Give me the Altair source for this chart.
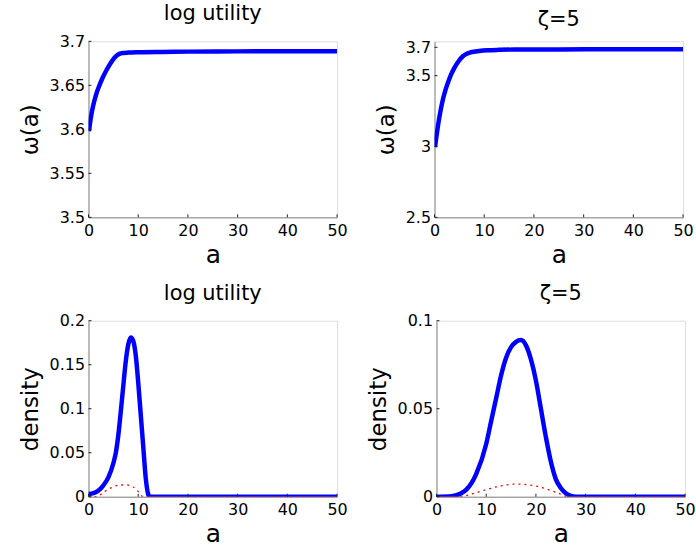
import altair as alt
import pandas as pd

# ---- data ----
# top-left: omega(a), log utility
tl_a = [0.1, 0.5, 0.9, 1.5, 2.2, 2.8, 3.5, 4.2, 4.9, 5.5, 6.2, 7.0, 8.0, 10.0, 15.0, 20.0, 30.0, 40.0, 50.0]
tl_v = [3.598, 3.614, 3.626, 3.639, 3.650, 3.658, 3.666, 3.673, 3.679, 3.683, 3.6858, 3.6868, 3.6872, 3.6876, 3.688, 3.6883, 3.6886, 3.6887, 3.6887]
# top-right: omega(a), zeta=5
tr_a = [0.1, 0.4, 0.7, 1.2, 1.7, 2.2, 2.7, 3.3, 4.0, 4.8, 5.7, 6.5, 7.3, 9.0, 10.7, 13.0, 16.0, 25.0, 35.0, 50.0]
tr_v = [2.995, 3.075, 3.147, 3.250, 3.334, 3.398, 3.450, 3.505, 3.555, 3.600, 3.637, 3.655, 3.665, 3.674, 3.679, 3.682, 3.684, 3.685, 3.686, 3.686]
# bottom-left: density, log utility
bl_a = [0, 1, 2, 3, 4, 5, 5.5, 6, 6.5, 7, 7.5, 8, 8.5, 9, 9.5, 10, 10.5, 11, 11.5, 12, 12.3, 20, 30, 40, 50]
bl_v = [0.003, 0.004, 0.007, 0.013, 0.022, 0.038, 0.050, 0.070, 0.097, 0.126, 0.154, 0.173, 0.181, 0.177, 0.161, 0.130, 0.094, 0.058, 0.022, 0.003, 0.0, 0.0, 0.0, 0.0, 0.0]
bl_ra = [0, 1.6, 3, 4.5, 6, 7.5, 9, 10, 11, 20, 30, 40, 50]
bl_rv = [0.0, 0.0, 0.005, 0.010, 0.013, 0.0135, 0.011, 0.006, 0.0, 0.0, 0.0, 0.0, 0.0]
# bottom-right: density, zeta=5
br_a = [0, 3, 5, 6, 8, 10, 11, 12, 13, 14, 15, 16, 17, 18, 19, 20, 21, 22, 23, 24, 25, 26, 27, 28, 35, 50]
br_v = [0.0, 0.0003, 0.002, 0.004, 0.013, 0.030, 0.043, 0.056, 0.069, 0.079, 0.085, 0.088, 0.089, 0.086, 0.078, 0.066, 0.050, 0.034, 0.020, 0.010, 0.005, 0.002, 0.0005, 0.0, 0.0, 0.0]
br_ra = [0, 4.6, 7, 10, 13, 16, 19, 22, 24.5, 26.5, 35, 50]
br_rv = [0.0, 0.0, 0.0015, 0.004, 0.0062, 0.0072, 0.0066, 0.0045, 0.002, 0.0, 0.0, 0.0]

x_ticks = [0, 10, 20, 30, 40, 50]
FONT = "DejaVu Sans"
W, H = 250, 177


def panel(title, ytitle, blue_a, blue_v, ydom, yticks, red_a=None, red_v=None):
    xs = alt.Scale(domain=[0, 50], nice=False)
    ys = alt.Scale(domain=ydom, nice=False, zero=False)
    xaxis = alt.Axis(values=x_ticks, title="a", grid=False, tickSize=0, labelPadding=5,
                     titlePadding=4, labelFontSize=16, titleFontSize=25, format="~r",
                     labelFlush=False, labelOverlap=False,
                     titleFontWeight="normal", labelFont=FONT, titleFont=FONT)
    yaxis = alt.Axis(values=yticks, title=ytitle, grid=False, tickSize=0, labelPadding=4,
                     titlePadding=7, labelFontSize=16, titleFontSize=23, format="~r",
                     labelFlush=False, labelOverlap=False,
                     titleFontWeight="normal", labelFont=FONT, titleFont=FONT)
    blue = alt.Chart(pd.DataFrame({"a": blue_a, "v": blue_v})).mark_line(
        color="#0000FF", strokeWidth=4.5, interpolate="monotone", clip=True
    ).encode(x=alt.X("a:Q", scale=xs, axis=xaxis), y=alt.Y("v:Q", scale=ys, axis=yaxis))
    layers = [blue]
    if red_a is not None:
        red = alt.Chart(pd.DataFrame({"a": red_a, "v": red_v})).mark_line(
            color="#FF0000", strokeWidth=1.3, strokeDash=[2, 4], interpolate="monotone", clip=True
        ).encode(x=alt.X("a:Q", scale=xs), y=alt.Y("v:Q", scale=ys))
        layers.append(red)
    xt = alt.Chart(pd.DataFrame({"t": x_ticks})).mark_rule(color="#222", strokeWidth=1).encode(
        x=alt.X("t:Q", scale=xs), y=alt.value(H), y2=alt.value(H - 3))
    yt = alt.Chart(pd.DataFrame({"t": yticks})).mark_rule(color="#222", strokeWidth=1).encode(
        y=alt.Y("t:Q", scale=ys), x=alt.value(0), x2=alt.value(3))
    layers += [xt, yt]
    return alt.layer(*layers).properties(
        width=W, height=H,
        title=alt.TitleParams(title, fontSize=21, font=FONT, fontWeight="normal", offset=9, color="#000"),
    )


tl = panel("log utility", "ω(a)", tl_a, tl_v, [3.5, 3.7], [3.5, 3.55, 3.6, 3.65, 3.7])
tr = panel("ζ=5", "ω(a)", tr_a, tr_v, [2.5, 3.742], [2.5, 3.0, 3.5, 3.7])
bl = panel("log utility", "density", bl_a, bl_v, [0, 0.2], [0, 0.05, 0.1, 0.15, 0.2], bl_ra, bl_rv)
br = panel("ζ=5", "density", br_a, br_v, [0, 0.1], [0, 0.05, 0.1], br_ra, br_rv)

chart = alt.vconcat(
    alt.hconcat(tl, tr, spacing=27),
    alt.hconcat(bl, br, spacing=18),
    spacing=14,
).configure_view(stroke=None).configure_axis(
    domainColor="#808080", domainWidth=1.5, labelFont=FONT, titleFont=FONT,
    labelColor="#000", titleColor="#000", titleFontWeight="normal",
).configure_title(fontSize=21, font=FONT, fontWeight="normal").configure(
    padding={"left": 18, "top": 1, "right": 0, "bottom": 0}, background="white")

chart.save("out.html", embed_options={"renderer": "svg", "actions": False})
